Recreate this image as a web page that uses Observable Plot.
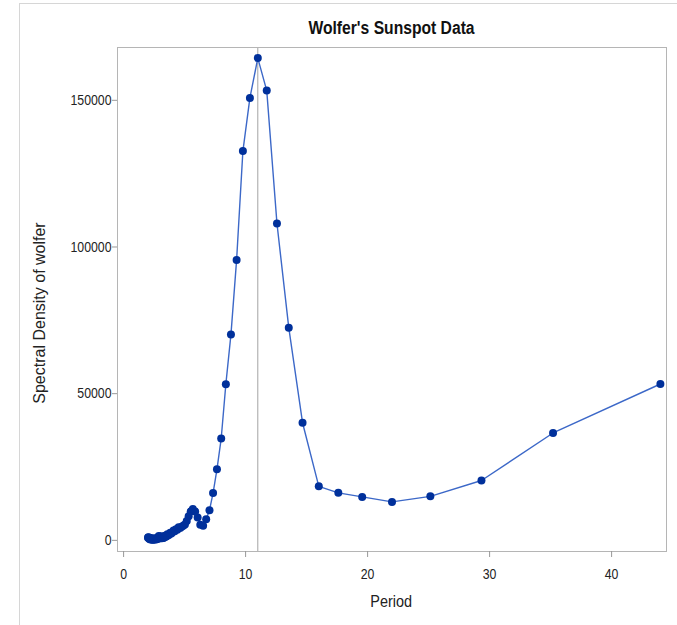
<!DOCTYPE html>
<html><head><meta charset="utf-8">
<script src="https://cdn.jsdelivr.net/npm/d3@7"></script>
<script src="https://cdn.jsdelivr.net/npm/@observablehq/plot@0.6"></script>
<style>
html,body{margin:0;padding:0;background:#fff;}
#wrap{position:relative;width:677px;height:625px;overflow:hidden;background:#fff;}
#border{position:absolute;left:19px;top:3px;width:720px;height:720px;border:1px solid #d6d6d6;box-sizing:border-box;}
#chart{position:absolute;left:0;top:0;}
.lab{font-family:"Liberation Sans",Arial,sans-serif;}
.lab span{display:inline-block;}
#title{position:absolute;left:117px;width:549px;top:18px;text-align:center;font-size:18px;font-weight:bold;line-height:20px;color:#111;}
#title span{transform:scaleX(0.87);}
#xlabel{position:absolute;left:117px;width:549px;top:593px;text-align:center;font-size:16px;line-height:18px;color:#222;}
#xlabel span{transform:scaleX(0.9);}
#ylabel{position:absolute;left:-110px;width:300px;top:304px;height:18px;line-height:18px;text-align:center;font-family:"Liberation Sans",Arial,sans-serif;font-size:16px;color:#222;transform:rotate(-90deg);transform-origin:150px 9px;}
</style>
</head><body>
<div id="wrap">
  <div id="border"></div>
  <div id="chart"></div>
  <div id="title" class="lab"><span>Wolfer's Sunspot Data</span></div>
  <div id="xlabel" class="lab"><span>Period</span></div>
  <div id="ylabel">Spectral Density of wolfer</div>
</div>
<script>
const periods = [44.000, 35.200, 29.333, 25.143, 22.000, 19.556, 17.600, 16.000, 14.667, 13.538,
  12.571, 11.733, 11.000, 10.353, 9.778, 9.263, 8.800, 8.381, 8.000, 7.652,
  7.333, 7.040, 6.769, 6.519, 6.286, 6.069, 5.867, 5.677, 5.500, 5.333,
  5.176, 5.029, 4.889, 4.757, 4.632, 4.513, 4.400, 4.293, 4.190, 4.093,
  4.000, 3.911, 3.826, 3.745, 3.667, 3.592, 3.520, 3.451, 3.385, 3.321,
  3.259, 3.200, 3.143, 3.088, 3.034, 2.983, 2.933, 2.885, 2.839, 2.794,
  2.750, 2.708, 2.667, 2.627, 2.588, 2.551, 2.514, 2.479, 2.444, 2.411,
  2.378, 2.347, 2.316, 2.286, 2.256, 2.228, 2.200, 2.173, 2.146, 2.120,
  2.095, 2.071, 2.047, 2.023, 2.000];
const density = [53300, 36600, 20400, 15000, 13100, 14800, 16200, 18400, 40100, 72500,
  108000, 153300, 164400, 150800, 132700, 95600, 70200, 53200, 34700, 24200,
  16100, 10300, 7200, 5000, 5300, 7800, 9800, 10700, 9800, 8200,
  6600, 5400, 5000, 4600, 4200, 4500, 3600, 3800, 3100, 3400,
  2800, 2300, 2600, 2000, 1700, 2100, 1400, 1200, 1600, 1000,
  800, 1200, 700, 900, 1400, 1000, 600, 1500, 1100, 700,
  500, 400, 600, 300, 500, 700, 400, 300, 500, 200,
  400, 600, 300, 500, 700, 400, 300, 600, 800, 500,
  700, 1000, 800, 1100, 900];
const xTicks = [0, 10, 20, 30, 40];
const yTicks = [0, 50000, 100000, 150000];
const refPeriod = [11];

const data = periods.map((p, i) => ({period: p, density: density[i]}));

const chart = Plot.plot({
  width: 677,
  height: 625,
  marginLeft: 117,
  marginRight: 11,
  marginTop: 47,
  marginBottom: 74,
  style: {fontFamily: '"Liberation Sans",Arial,sans-serif', fontSize: "15px", color: "#222", background: "transparent"},
  x: {domain: [-0.5, 44.5]},
  y: {domain: [-3800, 168000]},
  marks: [
    Plot.ruleX(refPeriod, {stroke: "#a3a3a3", strokeWidth: 1}),
    Plot.line(data, {x: "period", y: "density", sort: "period", stroke: "#3c68c8", strokeWidth: 1.4}),
    Plot.dot(data, {x: "period", y: "density", r: 4, fill: "#00309b", stroke: "none"}),
    Plot.frame({stroke: "#b5b5b5"}),
    Plot.axisX({ticks: xTicks, tickFormat: d => String(d), tickSize: 6, tickPadding: 11, stroke: "#999", label: null}),
    Plot.axisY({ticks: yTicks, tickFormat: d => String(d), tickSize: 5, tickPadding: 1, stroke: "#999", label: null})
  ]
});
document.getElementById("chart").appendChild(chart);
chart.querySelectorAll("text").forEach(t => {
  const L = t.getComputedTextLength();
  if (L > 0) {
    t.setAttribute("textLength", (L * 0.82).toFixed(2));
    t.setAttribute("lengthAdjust", "spacingAndGlyphs");
  }
});
</script>
</body></html>
